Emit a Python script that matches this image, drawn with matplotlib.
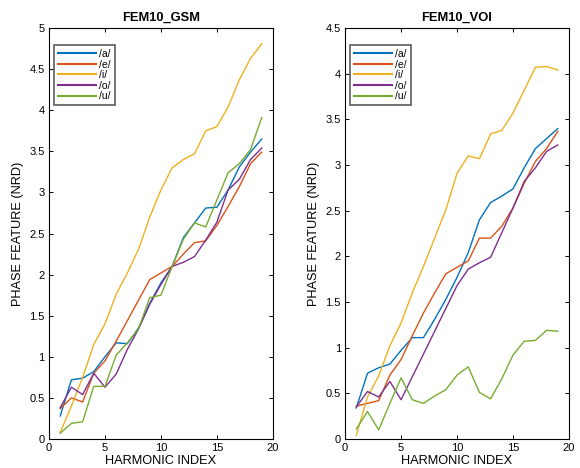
import numpy as np
import matplotlib
matplotlib.use("Agg")
import matplotlib.pyplot as plt
from matplotlib.ticker import FormatStrFormatter, MultipleLocator

plt.rcParams['font.family'] = ['Liberation Sans', 'DejaVu Sans']

harmonic = list(range(1, 20))
vowels = ["/a/", "/e/", "/i/", "/o/", "/u/"]
colors = ["#0072BD", "#D95319", "#EDB120", "#7E2F8E", "#77AC30"]

# FEM10_GSM
gsm_a = [0.28, 0.72, 0.74, 0.82, 1.00, 1.17, 1.16, 1.35, 1.65, 1.90, 2.10, 2.45, 2.63, 2.81, 2.82, 3.03, 3.31, 3.49, 3.65]
gsm_e = [0.37, 0.50, 0.45, 0.80, 0.95, 1.19, 1.44, 1.69, 1.94, 2.02, 2.10, 2.25, 2.39, 2.41, 2.60, 2.83, 3.07, 3.35, 3.49]
gsm_i = [0.08, 0.40, 0.75, 1.15, 1.40, 1.76, 2.02, 2.31, 2.70, 3.03, 3.30, 3.40, 3.47, 3.75, 3.80, 4.04, 4.37, 4.63, 4.81]
gsm_o = [0.38, 0.63, 0.54, 0.80, 0.63, 0.79, 1.09, 1.34, 1.64, 1.88, 2.10, 2.15, 2.22, 2.42, 2.64, 3.03, 3.16, 3.40, 3.54]
gsm_u = [0.07, 0.19, 0.21, 0.64, 0.64, 1.02, 1.17, 1.34, 1.72, 1.75, 2.10, 2.43, 2.63, 2.58, 2.91, 3.24, 3.35, 3.52, 3.91]

# FEM10_VOI
voi_a = [0.34, 0.72, 0.78, 0.82, 0.97, 1.11, 1.11, 1.31, 1.53, 1.77, 2.04, 2.40, 2.59, 2.66, 2.74, 2.97, 3.18, 3.29, 3.40]
voi_e = [0.36, 0.39, 0.42, 0.70, 0.87, 1.13, 1.38, 1.60, 1.81, 1.88, 1.95, 2.20, 2.20, 2.33, 2.53, 2.80, 3.04, 3.18, 3.37]
voi_i = [0.04, 0.46, 0.69, 1.02, 1.27, 1.60, 1.89, 2.20, 2.51, 2.91, 3.10, 3.07, 3.34, 3.38, 3.57, 3.82, 4.07, 4.08, 4.04]
voi_o = [0.35, 0.52, 0.46, 0.63, 0.43, 0.68, 0.93, 1.18, 1.43, 1.68, 1.86, 1.93, 1.99, 2.26, 2.53, 2.82, 2.97, 3.15, 3.22]
voi_u = [0.11, 0.30, 0.10, 0.39, 0.67, 0.43, 0.39, 0.47, 0.54, 0.70, 0.79, 0.51, 0.44, 0.66, 0.92, 1.07, 1.08, 1.19, 1.18]


def draw_panel(ax, title, series, ymax):
    for values, name, color in zip(series, vowels, colors):
        ax.plot(harmonic, values, color=color, linewidth=1.0, label=name)
    ax.set_xlim(0, 20)
    ax.set_ylim(0, ymax)
    ax.xaxis.set_major_locator(MultipleLocator(5))
    ax.yaxis.set_major_locator(MultipleLocator(0.5))
    ax.yaxis.set_major_formatter(FormatStrFormatter('%g'))
    ax.tick_params(direction='in', top=True, right=True, labelsize=8,
                   length=3, width=0.7, pad=3)
    for spine in ax.spines.values():
        spine.set_linewidth(0.8)
    ax.set_title(title, fontsize=9.3, fontweight='bold', pad=5)
    ax.set_xlabel("HARMONIC INDEX", fontsize=9.2, labelpad=1)
    ax.set_ylabel("PHASE FEATURE (NRD)", fontsize=9.2, labelpad=4)
    leg = ax.legend(loc='upper left', bbox_to_anchor=(0.022, 0.959),
                    borderaxespad=0, fontsize=7.5, frameon=True, fancybox=False,
                    handlelength=3.6, handletextpad=0.3, labelspacing=0.05,
                    borderpad=0.4)
    leg.get_frame().set_edgecolor('#333333')
    leg.get_frame().set_linewidth(1.2)
    for line in leg.get_lines():
        line.set_linewidth(1.5)


fig = plt.figure(figsize=(5.8, 4.68), dpi=100)
ax1 = fig.add_axes([0.0845, 0.062, 0.386, 0.878])
ax2 = fig.add_axes([0.595, 0.062, 0.386, 0.878])

draw_panel(ax1, "FEM10_GSM", [gsm_a, gsm_e, gsm_i, gsm_o, gsm_u], 5)
draw_panel(ax2, "FEM10_VOI", [voi_a, voi_e, voi_i, voi_o, voi_u], 4.5)

fig.savefig("out.png", dpi=100)
